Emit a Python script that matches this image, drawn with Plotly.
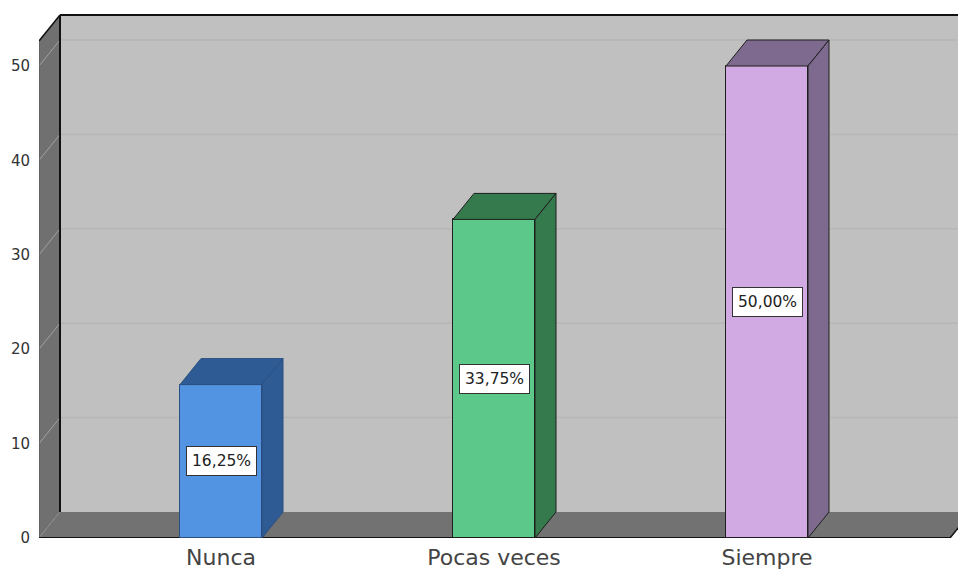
import plotly.graph_objects as go

# ---- data ----
categories = ["Nunca", "Pocas veces", "Siempre"]
percentages = [16.25, 33.75, 50.00]
y_ticks = [0, 10, 20, 30, 40, 50]

# ---- style ----
front_colors = ["#5294e2", "#5cc98a", "#d1a9e3"]
side_colors = ["#2f5b94", "#347a4d", "#7e6a8e"]
edge_colors = ["#2a4f80", "#1e1e1e", "#1e1e1e"]

W, H = 958, 574
L_PX, T_PX, B_PX = 39, 13, 36
PX_PER_CAT = 273.0
CENTER0_PX = 221.0
PX_PER_UNIT = 9.44
DEPTH_X_PX, DEPTH_Y_PX = 21.0, 26.0

plot_w = W - L_PX
plot_h = H - T_PX - B_PX
x0 = (L_PX - CENTER0_PX) / PX_PER_CAT
x1 = x0 + plot_w / PX_PER_CAT
ymax = plot_h / PX_PER_UNIT
ytop = ymax - 2 / PX_PER_UNIT          # top edge of the back wall
xR = (950 - CENTER0_PX) / PX_PER_CAT   # right end of the floor front edge
DX = DEPTH_X_PX / PX_PER_CAT
DY = DEPTH_Y_PX / PX_PER_UNIT
BW = 82 / PX_PER_CAT

xs = list(range(len(categories)))

fig = go.Figure()

shapes = []
# back wall
shapes.append(dict(type="rect", xref="x", yref="y", x0=x0 + DX, x1=x1 + 1, y0=DY, y1=ytop,
                   fillcolor="#c0c0c0", line=dict(width=0), layer="below"))
# back-wall gridlines
for v in y_ticks[1:]:
    shapes.append(dict(type="line", xref="x", yref="y", x0=x0 + DX, x1=x1 + 1, y0=v + DY, y1=v + DY,
                       line=dict(color="#b6b6b6", width=1.5), layer="below"))
# side wall
shapes.append(dict(type="path", xref="x", yref="y",
                   path=f"M {x0},{0} L {x0 + DX},{DY} L {x0 + DX},{ytop} L {x0},{ytop - DY} Z",
                   fillcolor="#707070", line=dict(width=0), layer="below"))
for v in y_ticks:
    shapes.append(dict(type="line", xref="x", yref="y", x0=x0, x1=x0 + DX, y0=v, y1=v + DY,
                       line=dict(color="#a2a2a2", width=1), layer="below"))
# floor
shapes.append(dict(type="path", xref="x", yref="y",
                   path=f"M {x0},{0} L {xR},{0} L {xR + DX},{DY} L {x0 + DX},{DY} Z",
                   fillcolor="#727272", line=dict(width=0), layer="below"))
# edges
shapes.append(dict(type="line", xref="x", yref="y", x0=x0 + DX, x1=x1 + 1, y0=ytop, y1=ytop,
                   line=dict(color="#111111", width=2), layer="below"))
shapes.append(dict(type="line", xref="x", yref="y", x0=x0 + DX, x1=x0 + DX, y0=DY, y1=ytop,
                   line=dict(color="#111111", width=2), layer="below"))
shapes.append(dict(type="line", xref="x", yref="y", x0=x0, x1=x0 + DX, y0=ytop - DY, y1=ytop,
                   line=dict(color="#111111", width=1.5), layer="below"))
shapes.append(dict(type="line", xref="x", yref="y", x0=x0, x1=x0, y0=0, y1=ytop - DY,
                   line=dict(color="#555555", width=1), layer="below"))
shapes.append(dict(type="line", xref="x", yref="y", x0=x0, x1=xR, y0=0, y1=0,
                   line=dict(color="#111111", width=2), layer="below"))
shapes.append(dict(type="line", xref="x", yref="y", x0=xR, x1=xR + DX, y0=0, y1=DY,
                   line=dict(color="#111111", width=1.5), layer="below"))

# bar front faces
fig.add_trace(go.Bar(x=xs, y=percentages, width=BW,
                     marker=dict(color=front_colors, line=dict(color=edge_colors, width=1)),
                     hoverinfo="skip", showlegend=False))

# bar top and side faces
for i, v in enumerate(percentages):
    c = xs[i]
    l, r = c - BW / 2, c + BW / 2
    fig.add_trace(go.Scatter(x=[l, r, r + DX, l + DX, l], y=[v, v, v + DY, v + DY, v],
                             mode="lines", fill="toself", fillcolor=side_colors[i],
                             line=dict(color=edge_colors[i], width=1),
                             hoverinfo="skip", showlegend=False))
    fig.add_trace(go.Scatter(x=[r, r + DX, r + DX, r, r], y=[0, DY, v + DY, v, 0],
                             mode="lines", fill="toself", fillcolor=side_colors[i],
                             line=dict(color=edge_colors[i], width=1),
                             hoverinfo="skip", showlegend=False))

annotations = []
for i, v in enumerate(percentages):
    annotations.append(dict(x=xs[i], y=v / 2, xref="x", yref="y",
                            text=f"{v:.2f}".replace(".", ",") + "%", showarrow=False,
                            font=dict(family="DejaVu Sans", size=15.5, color="#222222"),
                            bgcolor="white", bordercolor="#333333", borderwidth=1, borderpad=5))

fig.update_layout(
    width=W, height=H,
    margin=dict(l=L_PX, r=0, t=T_PX, b=B_PX, pad=0),
    paper_bgcolor="white", plot_bgcolor="white",
    shapes=shapes, annotations=annotations,
    font=dict(family="DejaVu Sans"),
    xaxis=dict(range=[x0, x1], tickvals=xs, ticktext=categories, showgrid=False,
               zeroline=False, showline=False, ticks="",
               tickfont=dict(family="DejaVu Sans", size=22, color="#444444"),
               ticklabelstandoff=4),
    yaxis=dict(range=[0, ymax], tickvals=y_ticks, showgrid=False, zeroline=False,
               showline=False, ticks="",
               tickfont=dict(family="DejaVu Sans", size=15, color="#333333"),
               ticklabelstandoff=8),
    bargap=0,
)

fig.write_html("out.html")
